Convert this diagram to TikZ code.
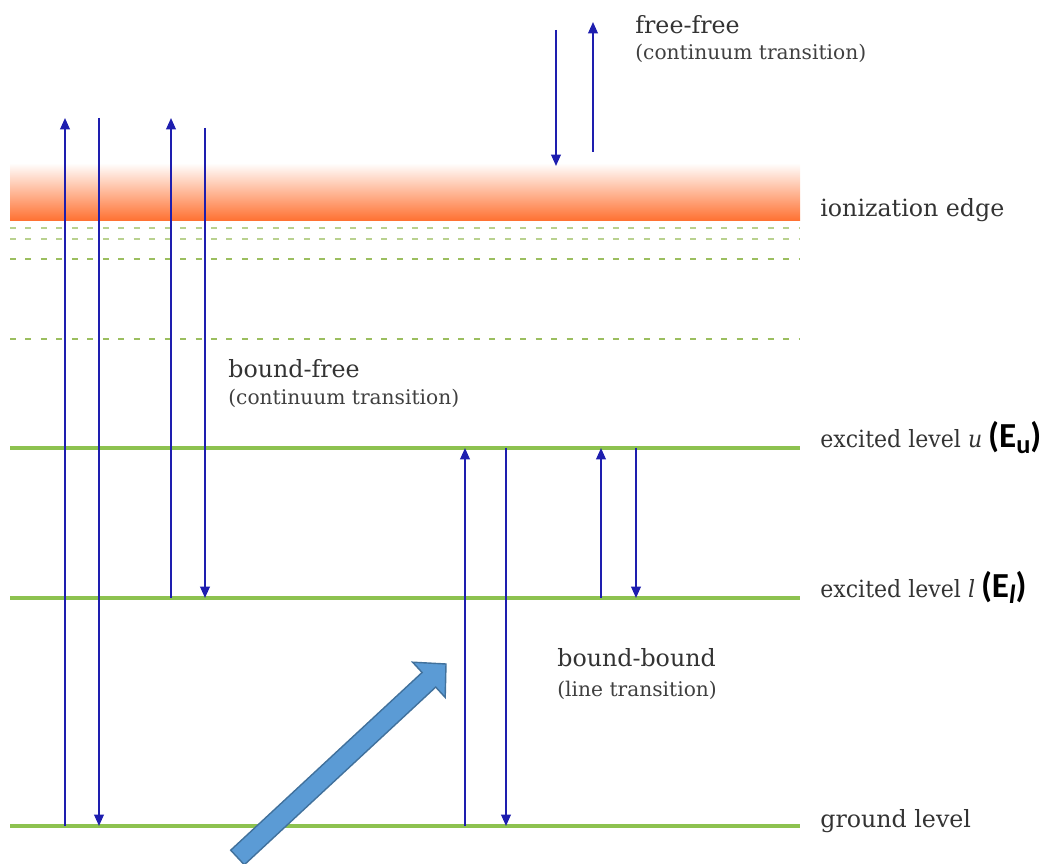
\documentclass[tikz,border=0pt]{standalone}
\usepackage{fontspec}
\usepackage{graphicx}
\setmainfont{DejaVu Serif}
\newfontfamily\calib{Carlito}
\usetikzlibrary{arrows.meta}
\definecolor{lvlgreen}{RGB}{141,194,80}
\definecolor{dashgreen}{RGB}{155,190,95}
\definecolor{trblue}{RGB}{30,30,175}
\definecolor{edgeorange}{RGB}{255,112,48}
\definecolor{bigfill}{RGB}{91,155,213}
\definecolor{bigedge}{RGB}{65,113,156}
\newcommand{\enlvl}[1]{(E\raisebox{-.3ex}{\fontsize{15}{15}\selectfont #1})}

\begin{document}
\begin{tikzpicture}[x=0.02cm, y=-0.02cm,
    level/.style = {lvlgreen, line width=2.6pt},
    sublevel/.style = {dashgreen, line width=1.7pt, dash pattern=on 3.4pt off 5.4pt},
    trans/.style = {trblue, line width=1pt, -{Triangle[length=6.5pt,width=5.5pt]}},
    lbl/.style = {anchor=base west, inner sep=0pt, text=black!80, font=\fontsize{13.5}{16}\selectfont},
    sublbl/.style = {anchor=base west, inner sep=0pt, text=black!75, font=\fontsize{11.5}{14}\selectfont},
    energy/.style = {anchor=base west, inner sep=0pt, font=\calib\bfseries\fontsize{20}{22}\selectfont}]
        \useasboundingbox (0,0) rectangle (1049,864);
        % continuum
        \shade[top color=white, bottom color=edgeorange] (10,163) rectangle (800,221);
        \draw[sublevel, opacity=.7] (10,228) -- (800,228);
        \draw[sublevel, opacity=.7] (10,239) -- (800,239);
        \draw[sublevel] (10,259) -- (800,259);
        \draw[sublevel] (10,339) -- (800,339);
        % levels
        \coordinate (uL) at (10,448);
        \coordinate (uR) at (800,448);
        \coordinate (lL) at (10,598);
        \coordinate (lR) at (800,598);
        \coordinate (gL) at (10,826);
        \coordinate (gR) at (800,826);
        \draw[level] (uL) -- (uR);
        \draw[level] (lL) -- (lR);
        \draw[level] (gL) -- (gR);
        % transitions
        \coordinate (c1) at (65,118);
        \coordinate (c2) at (99,118);
        \coordinate (c3) at (171,118);
        \coordinate (c4) at (205,128);
        \coordinate (c5) at (465,0);
        \coordinate (c6) at (506,0);
        \coordinate (c7) at (601,0);
        \coordinate (c8) at (636,0);
        \coordinate (f1) at (556,30);
        \coordinate (f2) at (556,166);
        \coordinate (f3) at (593,152);
        \coordinate (f4) at (593,22);
        \draw[trans] (c1 |- gL) -- (c1);
        \draw[trans] (c2) -- (c2 |- gL);
        \draw[trans] (c3 |- lL) -- (c3);
        \draw[trans] (c4) -- (c4 |- lL);
        \draw[trans] (c5 |- gL) -- (c5 |- uL);
        \draw[trans] (c6 |- uL) -- (c6 |- gL);
        \draw[trans] (c7 |- lL) -- (c7 |- uL);
        \draw[trans] (c8 |- uL) -- (c8 |- lL);
        \draw[trans] (f1) -- (f2);
        \draw[trans] (f3) -- (f4);
        % labels
        \node[lbl] (ff) at (635,34) {free-free};
        \node[sublbl] (ffsub) at (635,60) {(continuum transition)};
        \node[lbl] (edge) at (820,217) {ionization edge};
        \node[lbl] (bf) at (228,378) {bound-free};
        \node[sublbl] (bfsub) at (228,405) {(continuum transition)};
        \node[lbl] (exu) at (820,448) {\scalebox{.93}[1]{excited level \textit{u}}};
        \node[energy] (Eu) at ([xshift=3pt]exu.base east) {\enlvl{u}};
        \node[lbl] (exl) at (820,598) {\scalebox{.93}[1]{excited level \textit{l}}};
        \node[energy] (El) at ([xshift=3pt]exl.base east) {\enlvl{\textit{l}}};
        \node[lbl] (bb) at (557,667) {bound-bound};
        \node[sublbl] (bbsub) at (557,697) {(line transition)};
        \node[lbl] (gnd) at (820,828) {ground level};
        % pointer
        \draw[bigedge, fill=bigfill, line width=0.8pt, line join=miter]
          (230.7,850.2) -- (422.1,672.5) -- (412.6,662.2) -- (446,664)
          -- (445.2,697.4) -- (435.7,687.1) -- (244.3,864.8) -- cycle;
\end{tikzpicture}
\end{document}
